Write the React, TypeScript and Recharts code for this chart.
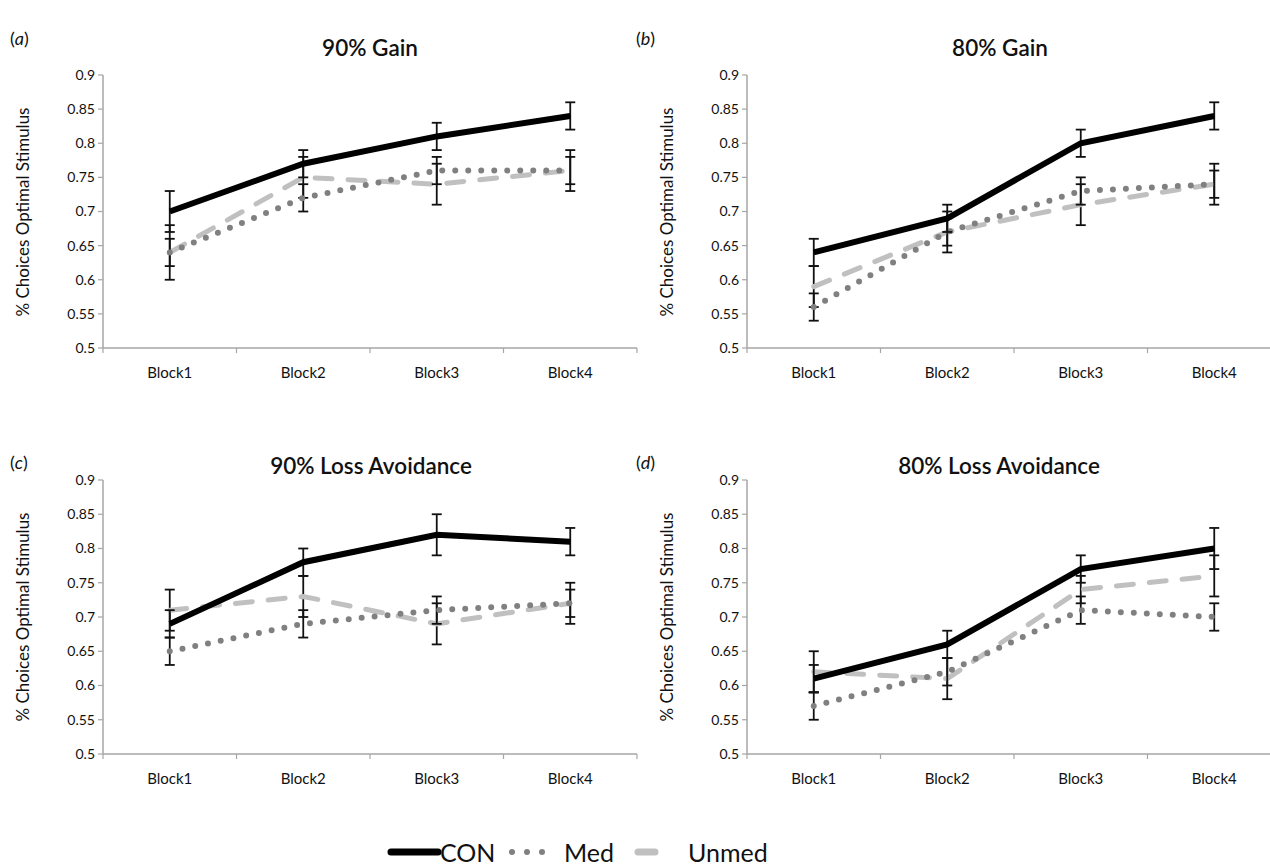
import { LineChart, Line, XAxis, YAxis, ErrorBar } from "recharts";

const blocks = ["Block1", "Block2", "Block3", "Block4"];
const yTicks = [0.5, 0.55, 0.6, 0.65, 0.7, 0.75, 0.8, 0.85, 0.9];

// (a) 90% Gain
const conA = [0.7, 0.77, 0.81, 0.84];
const conErrA = [0.03, 0.02, 0.02, 0.02];
const medA = [0.64, 0.72, 0.76, 0.76];
const medErrA = [0.04, 0.02, 0.02, 0.03];
const unmedA = [0.64, 0.75, 0.74, 0.76];
const unmedErrA = [0.02, 0.03, 0.03, 0.02];

// (b) 80% Gain
const conB = [0.64, 0.69, 0.8, 0.84];
const conErrB = [0.02, 0.02, 0.02, 0.02];
const medB = [0.56, 0.67, 0.73, 0.74];
const medErrB = [0.02, 0.03, 0.02, 0.03];
const unmedB = [0.59, 0.67, 0.71, 0.74];
const unmedErrB = [0.03, 0.02, 0.03, 0.02];

// (c) 90% Loss Avoidance
const conC = [0.69, 0.78, 0.82, 0.81];
const conErrC = [0.02, 0.02, 0.03, 0.02];
const medC = [0.65, 0.69, 0.71, 0.72];
const medErrC = [0.02, 0.02, 0.02, 0.03];
const unmedC = [0.71, 0.73, 0.69, 0.72];
const unmedErrC = [0.03, 0.03, 0.03, 0.02];

// (d) 80% Loss Avoidance
const conD = [0.61, 0.66, 0.77, 0.8];
const conErrD = [0.02, 0.02, 0.02, 0.03];
const medD = [0.57, 0.62, 0.71, 0.7];
const medErrD = [0.02, 0.02, 0.02, 0.02];
const unmedD = [0.62, 0.61, 0.74, 0.76];
const unmedErrD = [0.03, 0.03, 0.02, 0.03];

const FONT = "Lato, 'Open Sans', sans-serif";
const AXIS = "#a6a6a6";

// tick marks sit between categories (Excel style), labels at centres
const xTicks = [0, ...blocks.flatMap((_, i) => [i + 0.5, i + 1])];

function XTick(props: any) {
  const { x, y, payload } = props;
  const v = payload.value;
  if (Number.isInteger(v)) {
    return <line x1={x} x2={x} y1={y} y2={y + 5} stroke={AXIS} strokeWidth={1.2} />;
  }
  return (
    <text x={x} y={y + 30} textAnchor="middle" fontSize={15} fill="#111" fontFamily={FONT}>
      {blocks[Math.floor(v)]}
    </text>
  );
}

function build(con: number[], conErr: number[], med: number[], medErr: number[], unmed: number[], unmedErr: number[]) {
  return blocks.map((b, i) => ({
    x: i + 0.5,
    block: b,
    con: con[i],
    conErr: conErr[i],
    med: med[i],
    medErr: medErr[i],
    unmed: unmed[i],
    unmedErr: unmedErr[i],
  }));
}

type PanelProps = {
  left: number;
  top: number;
  plotH: number;
  data: any[];
};

function Panel({ left, top, plotH, data }: PanelProps) {
  return (
    <div style={{ position: "absolute", left, top }}>
      <LineChart width={642} height={plotH + 15 + 40} data={data} margin={{ top: 15, right: 5, bottom: 0, left: 60 }}>
        <XAxis
          type="number"
          dataKey="x"
          domain={[0, 4]}
          ticks={xTicks}
          interval={0}
          tickLine={false}
          tickSize={0}
          tickMargin={0}
          height={40}
          axisLine={{ stroke: AXIS, strokeWidth: 1.5 }}
          tick={(p: any) => <XTick {...p} />}
        />
        <YAxis
          type="number"
          domain={[0.5, 0.9]}
          ticks={yTicks}
          interval={0}
          width={43}
          tickSize={5}
          tickMargin={3}
          axisLine={{ stroke: AXIS, strokeWidth: 1.5 }}
          tickLine={{ stroke: AXIS, strokeWidth: 1.2 }}
          tick={{ fontSize: 14, fill: "#111", fontFamily: FONT }}
          tickFormatter={(v: number) => String(+v.toFixed(2))}
        />
        <Line
          dataKey="unmed"
          stroke="#c0c0c0"
          strokeWidth={5}
          strokeDasharray="17 16"
          strokeLinecap="round"
          dot={false}
          isAnimationActive={false}
        >
          <ErrorBar dataKey="unmedErr" width={5} stroke="#111" strokeWidth={1.8} direction="y" />
        </Line>
        <Line
          dataKey="med"
          stroke="#808080"
          strokeWidth={6}
          strokeDasharray="0 13"
          strokeLinecap="round"
          dot={false}
          isAnimationActive={false}
        >
          <ErrorBar dataKey="medErr" width={5} stroke="#111" strokeWidth={1.8} direction="y" />
        </Line>
        <Line dataKey="con" stroke="#000" strokeWidth={6} dot={false} isAnimationActive={false}>
          <ErrorBar dataKey="conErr" width={5} stroke="#111" strokeWidth={1.8} direction="y" />
        </Line>
      </LineChart>
    </div>
  );
}

function Title({ cx, y, text }: { cx: number; y: number; text: string }) {
  return (
    <div
      style={{
        position: "absolute",
        left: cx,
        top: y,
        transform: "translate(-50%, -50%)",
        fontFamily: FONT,
        fontSize: 22.5,
        fontWeight: 600,
        color: "#111",
        whiteSpace: "nowrap",
      }}
    >
      {text}
    </div>
  );
}

function Tag({ x, y, letter }: { x: number; y: number; letter: string }) {
  return (
    <div
      style={{
        position: "absolute",
        left: x,
        top: y,
        transform: "translateY(-50%)",
        fontFamily: FONT,
        fontSize: 18,
        color: "#111",
      }}
    >
      (<i>{letter}</i>)
    </div>
  );
}

function YLabel({ cx, cy }: { cx: number; cy: number }) {
  return (
    <div
      style={{
        position: "absolute",
        left: cx,
        top: cy,
        transform: "translate(-50%, -50%) rotate(-90deg)",
        fontFamily: FONT,
        fontSize: 17,
        color: "#111",
        whiteSpace: "nowrap",
      }}
    >
      % Choices Optimal Stimulus
    </div>
  );
}

function LegendRow() {
  const txt = {
    position: "absolute",
    top: 852,
    transform: "translateY(-50%)",
    fontFamily: FONT,
    fontSize: 25,
    color: "#111",
    lineHeight: "26px",
    whiteSpace: "nowrap",
  } as const;
  return (
    <>
      <svg style={{ position: "absolute", left: 380, top: 842 }} width={300} height={20}>
        <line x1={11} x2={58} y1={10} y2={10} stroke="#000" strokeWidth={7} strokeLinecap="round" />
        <line x1={132} x2={177} y1={10} y2={10} stroke="#808080" strokeWidth={6} strokeDasharray="0 15" strokeLinecap="round" />
        <line x1={258} x2={275} y1={10} y2={10} stroke="#c0c0c0" strokeWidth={7} strokeLinecap="round" />
      </svg>
      <span style={{ ...txt, left: 440 }}>CON</span>
      <span style={{ ...txt, left: 564 }}>Med</span>
      <span style={{ ...txt, left: 688 }}>Unmed</span>
    </>
  );
}

export default function App() {
  const dataA = build(conA, conErrA, medA, medErrA, unmedA, unmedErrA);
  const dataB = build(conB, conErrB, medB, medErrB, unmedB, unmedErrB);
  const dataC = build(conC, conErrC, medC, medErrC, unmedC, unmedErrC);
  const dataD = build(conD, conErrD, medD, medErrD, unmedD, unmedErrD);
  return (
    <div
      style={{
        position: "absolute",
        left: 0,
        top: 0,
        width: 1270,
        height: 867,
        overflow: "hidden",
        background: "#fff",
      }}
    >
      <Tag x={10} y={38} letter="a" />
      <Title cx={370} y={47} text="90% Gain" />
      <Tag x={636} y={38} letter="b" />
      <Title cx={1000} y={47} text="80% Gain" />
      <Tag x={10} y={462} letter="c" />
      <Title cx={371} y={465} text="90% Loss Avoidance" />
      <Tag x={636} y={462} letter="d" />
      <Title cx={999} y={465} text="80% Loss Avoidance" />

      <YLabel cx={22} cy={212} />
      <YLabel cx={666} cy={212} />
      <YLabel cx={22} cy={617} />
      <YLabel cx={666} cy={617} />

      <Panel left={0} top={60} plotH={273} data={dataA} />
      <Panel left={644} top={60} plotH={273} data={dataB} />
      <Panel left={0} top={465} plotH={274} data={dataC} />
      <Panel left={644} top={465} plotH={274} data={dataD} />

      <LegendRow />
    </div>
  );
}
